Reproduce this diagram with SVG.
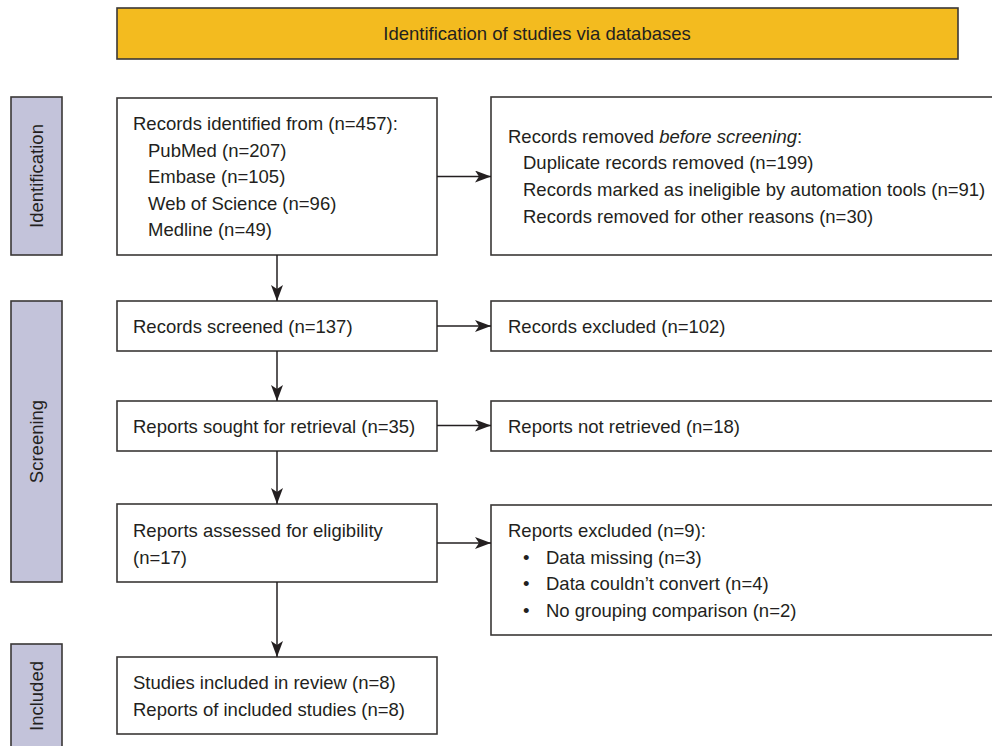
<svg xmlns="http://www.w3.org/2000/svg" width="992" height="746" viewBox="0 0 992 746">
<defs>
<style>
text{font-family:"Liberation Sans",Arial,Helvetica,sans-serif;font-size:18.5px;fill:#231f20}
.box{fill:#fff;stroke:#3a3736;stroke-width:1.6}
.lab{fill:#c3c3da;stroke:#3a3736;stroke-width:1.6}
.ban{fill:#f3bb1f;stroke:#3a3736;stroke-width:1.6}
.con{stroke:#231f20;stroke-width:1.5;fill:none;marker-end:url(#ah)}
</style>
<marker id="ah" viewBox="0 0 16 12" refX="16" refY="6" markerWidth="16" markerHeight="12" markerUnits="userSpaceOnUse" orient="auto">
<path d="M0,0 L16,6 L0,12 L4,6 Z" fill="#231f20"/>
</marker>
</defs>
<rect width="992" height="746" fill="#fff"/>

<g id="banner">
<rect class="ban" x="117" y="8" width="841" height="51"/>
<text x="537" y="40" text-anchor="middle">Identification of studies via databases</text>
</g>

<g id="label-identification">
<rect class="lab" x="11" y="97" width="51" height="158"/>
<text transform="translate(43,176) rotate(-90)" text-anchor="middle">Identification</text>
</g>
<g id="label-screening">
<rect class="lab" x="11" y="301" width="51" height="281"/>
<text transform="translate(43,441.5) rotate(-90)" text-anchor="middle">Screening</text>
</g>
<g id="label-included">
<rect class="lab" x="11" y="644" width="51" height="110"/>
<text transform="translate(43,696) rotate(-90)" text-anchor="middle">Included</text>
</g>

<g id="records-identified">
<rect class="box" x="117" y="98" width="320" height="157"/>
<text x="133" y="130">Records identified from (n=457):</text>
<text x="148" y="156.5">PubMed (n=207)</text>
<text x="148" y="183">Embase (n=105)</text>
<text x="148" y="209.5">Web of Science (n=96)</text>
<text x="148" y="236">Medline (n=49)</text>
</g>

<g id="records-removed">
<rect class="box" x="491" y="97" width="510" height="158"/>
<text x="508" y="142.5">Records removed <tspan font-style="italic">before screening</tspan>:</text>
<text x="523" y="169">Duplicate records removed (n=199)</text>
<text x="523" y="196">Records marked as ineligible by automation tools (n=91)</text>
<text x="523" y="222.5">Records removed for other reasons (n=30)</text>
</g>

<g id="records-screened">
<rect class="box" x="117" y="301" width="320" height="50"/>
<text x="133" y="333">Records screened (n=137)</text>
</g>

<g id="records-excluded">
<rect class="box" x="491" y="301" width="510" height="50"/>
<text x="508" y="333">Records excluded (n=102)</text>
</g>

<g id="reports-sought">
<rect class="box" x="117" y="401" width="320" height="50"/>
<text x="133" y="432.5">Reports sought for retrieval (n=35)</text>
</g>

<g id="reports-not-retrieved">
<rect class="box" x="491" y="401" width="510" height="50"/>
<text x="508" y="432.5">Reports not retrieved (n=18)</text>
</g>

<g id="reports-assessed">
<rect class="box" x="117" y="504" width="320" height="78"/>
<text x="133" y="537">Reports assessed for eligibility</text>
<text x="133" y="563.5">(n=17)</text>
</g>

<g id="reports-excluded">
<rect class="box" x="491" y="505" width="510" height="130"/>
<text x="508" y="537">Reports excluded (n=9):</text>
<text x="523" y="563.5">•</text><text x="546" y="563.5">Data missing (n=3)</text>
<text x="523" y="590">•</text><text x="546" y="590">Data couldn’t convert (n=4)</text>
<text x="523" y="616.5">•</text><text x="546" y="616.5">No grouping comparison (n=2)</text>
</g>

<g id="included">
<rect class="box" x="117" y="657" width="320" height="77"/>
<text x="133" y="689">Studies included in review (n=8)</text>
<text x="133" y="715.5">Reports of included studies (n=8)</text>
</g>

<g id="connectors">
<line class="con" x1="437" y1="176.5" x2="491" y2="176.5"/>
<line class="con" x1="277" y1="255" x2="277" y2="301"/>
<line class="con" x1="437" y1="326" x2="491" y2="326"/>
<line class="con" x1="277" y1="351" x2="277" y2="401"/>
<line class="con" x1="437" y1="425.5" x2="491" y2="425.5"/>
<line class="con" x1="277" y1="451" x2="277" y2="504"/>
<line class="con" x1="437" y1="543" x2="491" y2="543"/>
<line class="con" x1="277" y1="582" x2="277" y2="657"/>
</g>
</svg>
